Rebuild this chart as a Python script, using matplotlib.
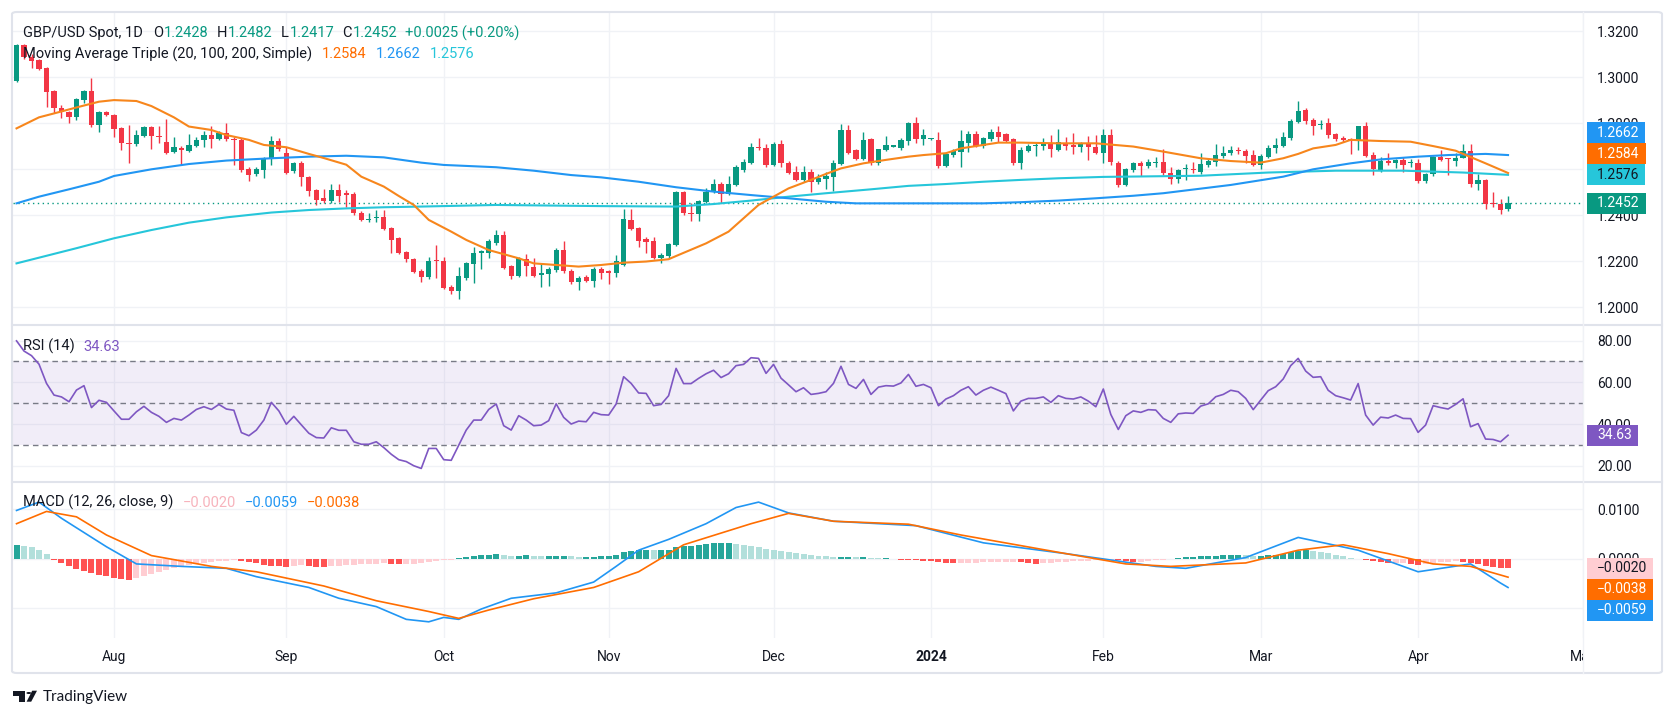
import numpy as np
import matplotlib
matplotlib.use("Agg")
import matplotlib.pyplot as plt
from matplotlib.lines import Line2D
from matplotlib.patches import Rectangle, Polygon, Circle, FancyBboxPatch
from matplotlib.ticker import FuncFormatter
from matplotlib.transforms import blended_transform_factory, Bbox

# ---- data: GBP/USD daily, 13 Jul 2023 .. 17 Apr 2024 (bar index 0..199)
open_ = [1.2985, 1.3141, 1.3090, 1.3075, 1.3039, 1.2941, 1.2865, 1.2851, 1.2826, 1.2901,
         1.2941, 1.2793, 1.2851, 1.2836, 1.2778, 1.2713, 1.2709, 1.2746, 1.2786, 1.2745,
         1.2720, 1.2675, 1.2691, 1.2681, 1.2701, 1.2728, 1.2748, 1.2733, 1.2759, 1.2733,
         1.2728, 1.2601, 1.2578, 1.2597, 1.2643, 1.2723, 1.2672, 1.2591, 1.2629, 1.2567,
         1.2510, 1.2475, 1.2462, 1.2510, 1.2493, 1.2491, 1.2412, 1.2380, 1.2387, 1.2391,
         1.2345, 1.2301, 1.2239, 1.2210, 1.2159, 1.2130, 1.2203, 1.2201, 1.2090, 1.2072,
         1.2129, 1.2188, 1.2238, 1.2235, 1.2278, 1.2314, 1.2180, 1.2136, 1.2212, 1.2177,
         1.2142, 1.2143, 1.2162, 1.2249, 1.2159, 1.2112, 1.2130, 1.2116, 1.2167, 1.2152,
         1.2151, 1.2184, 1.2380, 1.2346, 1.2296, 1.2288, 1.2216, 1.2223, 1.2271, 1.2501,
         1.2409, 1.2406, 1.2459, 1.2503, 1.2536, 1.2493, 1.2532, 1.2597, 1.2629, 1.2699,
         1.2694, 1.2619, 1.2710, 1.2629, 1.2590, 1.2554, 1.2590, 1.2546, 1.2557, 1.2568,
         1.2623, 1.2771, 1.2684, 1.2646, 1.2730, 1.2626, 1.2684, 1.2699, 1.2691, 1.2725,
         1.2800, 1.2733, 1.2730, 1.2728, 1.2614, 1.2662, 1.2677, 1.2713, 1.2754, 1.2701,
         1.2730, 1.2764, 1.2754, 1.2730, 1.2629, 1.2681, 1.2701, 1.2703, 1.2713, 1.2684,
         1.2716, 1.2706, 1.2699, 1.2710, 1.2699, 1.2672, 1.2749, 1.2629, 1.2532, 1.2597,
         1.2626, 1.2614, 1.2628, 1.2630, 1.2586, 1.2558, 1.2600, 1.2601, 1.2590, 1.2619,
         1.2633, 1.2658, 1.2672, 1.2684, 1.2681, 1.2662, 1.2619, 1.2655, 1.2691, 1.2703,
         1.2738, 1.2807, 1.2858, 1.2814, 1.2793, 1.2800, 1.2754, 1.2735, 1.2730, 1.2723,
         1.2788, 1.2662, 1.2597, 1.2636, 1.2626, 1.2641, 1.2626, 1.2626, 1.2551, 1.2578,
         1.2655, 1.2645, 1.2636, 1.2651, 1.2680, 1.2536, 1.2554, 1.2452, 1.2448, 1.2428]
high = [1.3144, 1.3144, 1.3100, 1.3080, 1.3045, 1.2945, 1.2880, 1.2855, 1.2910, 1.2945,
        1.2996, 1.2855, 1.2855, 1.2840, 1.2785, 1.2793, 1.2770, 1.2790, 1.2790, 1.2788,
        1.2817, 1.2739, 1.2700, 1.2754, 1.2740, 1.2767, 1.2788, 1.2765, 1.2800, 1.2740,
        1.2735, 1.2610, 1.2610, 1.2655, 1.2745, 1.2735, 1.2697, 1.2630, 1.2635, 1.2570,
        1.2515, 1.2513, 1.2535, 1.2536, 1.2510, 1.2503, 1.2420, 1.2409, 1.2423, 1.2423,
        1.2350, 1.2305, 1.2245, 1.2215, 1.2165, 1.2220, 1.2271, 1.2220, 1.2095, 1.2174,
        1.2195, 1.2264, 1.2250, 1.2295, 1.2337, 1.2332, 1.2185, 1.2220, 1.2230, 1.2213,
        1.2191, 1.2175, 1.2257, 1.2288, 1.2165, 1.2135, 1.2140, 1.2175, 1.2175, 1.2160,
        1.2226, 1.2428, 1.2428, 1.2350, 1.2307, 1.2307, 1.2235, 1.2280, 1.2506, 1.2506,
        1.2455, 1.2465, 1.2517, 1.2558, 1.2546, 1.2572, 1.2617, 1.2643, 1.2716, 1.2735,
        1.2709, 1.2720, 1.2728, 1.2635, 1.2615, 1.2615, 1.2600, 1.2580, 1.2590, 1.2641,
        1.2797, 1.2793, 1.2690, 1.2764, 1.2738, 1.2690, 1.2745, 1.2705, 1.2735, 1.2807,
        1.2826, 1.2774, 1.2735, 1.2764, 1.2677, 1.2690, 1.2771, 1.2768, 1.2768, 1.2740,
        1.2774, 1.2788, 1.2760, 1.2736, 1.2699, 1.2710, 1.2716, 1.2735, 1.2749, 1.2774,
        1.2742, 1.2757, 1.2720, 1.2745, 1.2749, 1.2777, 1.2775, 1.2635, 1.2606, 1.2632,
        1.2638, 1.2643, 1.2655, 1.2687, 1.2612, 1.2600, 1.2622, 1.2630, 1.2670, 1.2645,
        1.2710, 1.2701, 1.2701, 1.2696, 1.2687, 1.2684, 1.2667, 1.2706, 1.2735, 1.2764,
        1.2817, 1.2897, 1.2865, 1.2822, 1.2814, 1.2822, 1.2757, 1.2745, 1.2735, 1.2790,
        1.2804, 1.2675, 1.2655, 1.2670, 1.2645, 1.2652, 1.2643, 1.2643, 1.2583, 1.2658,
        1.2684, 1.2648, 1.2670, 1.2710, 1.2710, 1.2580, 1.2557, 1.2501, 1.2470, 1.2482]
low = [1.2980, 1.3080, 1.3040, 1.3030, 1.2872, 1.2843, 1.2822, 1.2800, 1.2814, 1.2890,
       1.2786, 1.2764, 1.2830, 1.2742, 1.2684, 1.2626, 1.2700, 1.2740, 1.2687, 1.2716,
       1.2665, 1.2670, 1.2619, 1.2675, 1.2695, 1.2699, 1.2691, 1.2728, 1.2725, 1.2619,
       1.2590, 1.2549, 1.2571, 1.2564, 1.2619, 1.2680, 1.2580, 1.2585, 1.2528, 1.2486,
       1.2445, 1.2455, 1.2455, 1.2459, 1.2438, 1.2400, 1.2375, 1.2372, 1.2372, 1.2336,
       1.2238, 1.2230, 1.2197, 1.2150, 1.2112, 1.2125, 1.2126, 1.2080, 1.2057, 1.2038,
       1.2120, 1.2107, 1.2165, 1.2213, 1.2270, 1.2165, 1.2122, 1.2130, 1.2136, 1.2130,
       1.2090, 1.2093, 1.2155, 1.2150, 1.2100, 1.2075, 1.2110, 1.2090, 1.2122, 1.2103,
       1.2133, 1.2180, 1.2335, 1.2264, 1.2238, 1.2210, 1.2191, 1.2216, 1.2266, 1.2400,
       1.2377, 1.2377, 1.2452, 1.2498, 1.2452, 1.2488, 1.2528, 1.2590, 1.2623, 1.2684,
       1.2612, 1.2614, 1.2609, 1.2580, 1.2550, 1.2546, 1.2503, 1.2536, 1.2513, 1.2506,
       1.2617, 1.2665, 1.2640, 1.2641, 1.2620, 1.2619, 1.2680, 1.2695, 1.2686, 1.2706,
       1.2716, 1.2706, 1.2728, 1.2607, 1.2610, 1.2652, 1.2612, 1.2677, 1.2696, 1.2691,
       1.2725, 1.2720, 1.2720, 1.2619, 1.2603, 1.2675, 1.2658, 1.2684, 1.2652, 1.2681,
       1.2684, 1.2667, 1.2677, 1.2641, 1.2667, 1.2629, 1.2619, 1.2522, 1.2526, 1.2590,
       1.2572, 1.2604, 1.2609, 1.2575, 1.2536, 1.2542, 1.2554, 1.2583, 1.2580, 1.2612,
       1.2614, 1.2648, 1.2662, 1.2667, 1.2626, 1.2614, 1.2600, 1.2650, 1.2672, 1.2698,
       1.2728, 1.2803, 1.2797, 1.2749, 1.2774, 1.2735, 1.2725, 1.2720, 1.2667, 1.2684,
       1.2652, 1.2575, 1.2590, 1.2619, 1.2607, 1.2590, 1.2612, 1.2542, 1.2542, 1.2572,
       1.2638, 1.2575, 1.2614, 1.2648, 1.2525, 1.2510, 1.2426, 1.2438, 1.2406, 1.2417]
close = [1.3141, 1.3090, 1.3073, 1.3035, 1.2938, 1.2865, 1.2851, 1.2826, 1.2904, 1.2941,
         1.2793, 1.2851, 1.2836, 1.2774, 1.2713, 1.2710, 1.2749, 1.2786, 1.2745, 1.2739,
         1.2672, 1.2696, 1.2684, 1.2704, 1.2728, 1.2748, 1.2732, 1.2759, 1.2730, 1.2728,
         1.2597, 1.2575, 1.2601, 1.2648, 1.2723, 1.2687, 1.2586, 1.2626, 1.2567, 1.2506,
         1.2467, 1.2461, 1.2509, 1.2486, 1.2490, 1.2409, 1.2380, 1.2384, 1.2391, 1.2341,
         1.2293, 1.2238, 1.2209, 1.2155, 1.2133, 1.2201, 1.2200, 1.2086, 1.2072, 1.2136,
         1.2191, 1.2238, 1.2242, 1.2290, 1.2314, 1.2172, 1.2136, 1.2213, 1.2180, 1.2138,
         1.2145, 1.2168, 1.2249, 1.2159, 1.2109, 1.2129, 1.2114, 1.2167, 1.2151, 1.2151,
         1.2201, 1.2383, 1.2341, 1.2290, 1.2284, 1.2216, 1.2226, 1.2275, 1.2501, 1.2409,
         1.2406, 1.2462, 1.2503, 1.2536, 1.2493, 1.2536, 1.2612, 1.2632, 1.2699, 1.2694,
         1.2619, 1.2710, 1.2629, 1.2586, 1.2554, 1.2590, 1.2546, 1.2561, 1.2572, 1.2629,
         1.2771, 1.2672, 1.2646, 1.2728, 1.2626, 1.2687, 1.2706, 1.2701, 1.2728, 1.2800,
         1.2730, 1.2748, 1.2732, 1.2614, 1.2667, 1.2681, 1.2723, 1.2754, 1.2701, 1.2735,
         1.2764, 1.2742, 1.2725, 1.2629, 1.2684, 1.2703, 1.2706, 1.2709, 1.2687, 1.2719,
         1.2701, 1.2699, 1.2710, 1.2696, 1.2672, 1.2749, 1.2633, 1.2532, 1.2600, 1.2626,
         1.2614, 1.2630, 1.2631, 1.2586, 1.2558, 1.2597, 1.2603, 1.2598, 1.2623, 1.2638,
         1.2662, 1.2672, 1.2684, 1.2680, 1.2658, 1.2619, 1.2658, 1.2694, 1.2706, 1.2739,
         1.2810, 1.2854, 1.2810, 1.2790, 1.2796, 1.2749, 1.2730, 1.2728, 1.2725, 1.2788,
         1.2658, 1.2600, 1.2636, 1.2626, 1.2641, 1.2619, 1.2629, 1.2551, 1.2578, 1.2655,
         1.2641, 1.2643, 1.2651, 1.2680, 1.2536, 1.2554, 1.2448, 1.2448, 1.2423, 1.2452]

# moving averages (bar index, value)
ma20_x = [0, 3, 5, 8, 11, 13, 16, 18, 21, 23, 26, 28, 31, 33, 36, 39, 41, 44, 46, 49,
          51, 53, 55, 58, 60, 63, 67, 69, 72, 75, 78, 81, 84, 87, 88, 92, 95, 97, 99, 101,
          103, 106, 108, 110, 113, 116, 119, 121, 124, 126, 129, 131, 134, 139, 144, 149,
          153, 158, 162, 166, 169, 171, 173, 176, 178, 182, 186, 189, 192, 193, 196, 199]
ma20_v = [1.2778, 1.2826, 1.2843, 1.2869, 1.2894, 1.2901, 1.2897, 1.2875, 1.2826, 1.2786,
          1.2771, 1.2749, 1.2728, 1.2706, 1.2696, 1.2667, 1.2649, 1.2620, 1.2568, 1.2525,
          1.2484, 1.2445, 1.2380, 1.2329, 1.2293, 1.2249, 1.2213, 1.2191, 1.2184, 1.2177,
          1.2184, 1.2194, 1.2199, 1.2209, 1.2223, 1.2278, 1.2329, 1.2387, 1.2445, 1.2481,
          1.2517, 1.2554, 1.2580, 1.2604, 1.2626, 1.2641, 1.2655, 1.2662, 1.2670, 1.2691,
          1.2706, 1.2716, 1.2716, 1.2713, 1.2713, 1.2699, 1.2677, 1.2648, 1.2636, 1.2629,
          1.2648, 1.2667, 1.2691, 1.2706, 1.2728, 1.2723, 1.2720, 1.2701, 1.2681, 1.2667,
          1.2626, 1.2584]
ma100_x = [0, 3, 7, 11, 13, 18, 23, 28, 34, 39, 44, 49, 54, 57, 64, 69, 74, 78, 83, 88,
           93, 98, 103, 108, 112, 119, 129, 134, 139, 144, 149, 153, 162, 169, 173, 178,
           182, 187, 191, 196, 199]
ma100_v = [1.2452, 1.2481, 1.2513, 1.2546, 1.2571, 1.2600, 1.2623, 1.2638, 1.2648, 1.2655,
           1.2659, 1.2652, 1.2629, 1.2619, 1.2609, 1.2594, 1.2575, 1.2565, 1.2546, 1.2522,
           1.2503, 1.2488, 1.2474, 1.2459, 1.2452, 1.2452, 1.2452, 1.2457, 1.2464, 1.2474,
           1.2485, 1.2496, 1.2532, 1.2568, 1.2600, 1.2626, 1.2643, 1.2655, 1.2662, 1.2667,
           1.2662]
ma200_x = [0, 8, 13, 18, 23, 28, 34, 39, 44, 49, 54, 64, 78, 88, 93, 98, 103, 108, 114,
           119, 124, 129, 134, 139, 145, 158, 167, 176, 185, 193, 199]
ma200_v = [1.2191, 1.2257, 1.2300, 1.2336, 1.2368, 1.2391, 1.2412, 1.2423, 1.2430, 1.2435,
           1.2438, 1.2445, 1.2440, 1.2438, 1.2449, 1.2464, 1.2481, 1.2496, 1.2513, 1.2528,
           1.2536, 1.2546, 1.2554, 1.2561, 1.2567, 1.2572, 1.2586, 1.2594, 1.2594, 1.2586,
           1.2576]

rsi = [79.9, 75.0, 72.8, 68.7, 59.5, 53.9, 53.0, 50.7, 56.3, 58.4,
       47.9, 51.4, 50.4, 46.3, 42.3, 42.3, 45.9, 48.5, 45.6, 43.7,
       40.8, 42.7, 41.9, 44.3, 47.0, 48.3, 47.0, 49.4, 47.2, 46.6,
       35.9, 34.4, 37.1, 41.9, 50.4, 46.3, 39.9, 43.7, 39.6, 35.6,
       33.5, 33.3, 38.2, 37.0, 37.0, 31.5, 30.3, 30.3, 31.5, 28.7,
       25.5, 22.9, 22.0, 20.0, 18.7, 28.3, 28.3, 22.9, 22.6, 29.9,
       37.1, 41.9, 41.9, 47.0, 49.6, 39.2, 37.1, 44.0, 41.9, 39.2,
       39.5, 41.6, 49.7, 43.2, 40.0, 41.4, 41.1, 45.6, 44.5, 44.3,
       49.6, 62.7, 59.5, 54.9, 54.7, 48.8, 49.4, 53.6, 66.7, 59.4,
       59.4, 61.9, 64.1, 65.8, 62.3, 64.1, 68.0, 68.6, 71.8, 71.5,
       64.3, 68.6, 62.0, 58.8, 55.5, 57.4, 54.2, 54.7, 55.5, 59.5,
       67.7, 59.0, 57.1, 61.4, 54.2, 57.7, 58.4, 58.2, 59.7, 63.8,
       58.1, 59.0, 57.4, 48.8, 52.0, 53.6, 56.2, 57.9, 53.9, 56.2,
       57.7, 56.2, 54.6, 46.3, 51.0, 52.3, 52.3, 53.0, 50.4, 53.6,
       52.3, 52.0, 53.0, 51.0, 48.3, 56.8, 44.6, 37.4, 44.0, 46.3,
       45.6, 46.9, 46.7, 42.7, 40.8, 44.9, 45.3, 45.1, 48.6, 49.7,
       53.1, 54.2, 56.2, 55.5, 52.3, 46.9, 51.5, 56.0, 57.9, 61.6,
       68.0, 71.5, 65.4, 62.4, 62.7, 56.2, 53.6, 52.6, 51.5, 59.4,
       44.3, 39.5, 43.3, 42.9, 44.3, 42.7, 42.6, 36.0, 39.5, 48.8,
       47.9, 47.2, 49.4, 52.1, 38.7, 40.2, 32.8, 32.6, 31.5, 34.63]

# MACD (values in 1e-3)
macd_x = [0, 3, 6, 12, 16, 22, 28, 32, 39, 43, 48, 52, 55, 57, 59, 62, 66, 72, 77, 80,
          83, 87, 92, 96, 99, 103, 109, 120, 129, 140, 152, 156, 164, 171, 179, 187, 194, 198, 199]
macd_v = [9.8, 11.5, 8.2, 2.4, -1.1, -1.6, -2.0, -3.7, -5.9, -8.1,
          -9.8, -12.4, -12.9, -12.0, -12.4, -10.3, -8.1, -7.0, -4.8, -1.6,
          1.7, 3.9, 7.1, 10.4, 11.5, 9.3, 7.6, 6.7, 3.2, 1.0,
          -1.6, -2.0, 0.2, 4.3, 1.7, -2.7, -1.1, -5.0, -5.9]
sig_x = [0, 4, 8, 12, 18, 26, 32, 41, 48, 55, 59, 63, 69, 77, 83, 89, 98, 103, 109, 119,
         126, 140, 148, 154, 164, 171, 177, 183, 189, 194, 199]
sig_v = [7.1, 9.6, 8.5, 4.8, 0.6, -1.6, -2.7, -5.6, -8.6, -10.8,
         -12.2, -10.5, -8.2, -5.9, -2.7, 2.8, 7.1, 9.2, 7.6, 7.0,
         4.8, 1.0, -1.1, -1.6, -0.9, 1.7, 2.8, 1.0, -1.1, -1.6, -3.8]
hist = [2.8, 2.6, 2.3, 1.8, 1.0,
        -0.4, -1.0, -1.6, -2.2, -2.6, -3.0, -3.3, -3.6, -3.9, -4.1, -4.3,
        -4.0, -3.6, -3.2, -2.8, -2.4, -2.0, -1.7, -1.4, -1.2, -1.0, -0.8,
        -0.6, -0.5, -0.4, -0.5, -0.7,
        -1.0, -1.3, -1.5, -1.6, -1.7,
        -1.5, -1.4, -1.5, -1.7, -1.8, -1.6, -1.5, -1.4,
        -1.3, -1.2, -1.1, -1.1, -1.0, -1.1, -1.2, -1.2, -1.1, -1.0, -0.7, -0.5, -0.4, -0.2,
        0.1, 0.3, 0.5, 0.7, 0.8, 0.9, 0.8, 0.6, 0.6, 0.7, 0.6, 0.5, 0.5, 0.5, 0.6, 0.5,
        0.4, 0.4, 0.4, 0.5, 0.6, 0.8,
        1.3, 1.6, 1.8, 1.8, 1.7, 1.7, 1.8, 2.4, 2.6, 2.6, 2.7, 2.9, 3.1, 3.2, 3.2, 3.0, 2.8,
        2.5, 2.3, 2.0, 1.8, 1.6, 1.4, 1.2, 1.0, 0.8, 0.6, 0.5, 0.4, 0.4, 0.4, 0.3, 0.3,
        0.2, 0.1, 0.1, 0.0,
        -0.2, -0.3, -0.4, -0.5, -0.6, -0.7, -0.9, -1.0, -1.0, -1.0, -0.9, -0.8, -0.8, -0.8,
        -0.7, -0.7, -0.8, -1.0, -1.1, -1.0, -0.9, -0.8, -0.7, -0.6, -0.5, -0.5, -0.4, -0.3,
        -0.3, -0.4, -0.6, -0.8, -0.8,
        -0.6, -0.4, -0.2, 0.0, 0.2, 0.3, 0.4, 0.5, 0.5, 0.6, 0.7, 0.8, 0.8, 0.7, 0.6, 0.6,
        0.7, 0.8, 1.0, 1.3, 1.6, 1.8, 1.6, 1.3, 1.1,
        0.8, 0.5, 0.2, 0.0, -0.3, -0.6, -0.8, -1.0, -1.0, -1.0, -1.1, -1.3, -1.2, -1.0,
        -0.8, -0.7, -0.6, -0.7, -1.0, -1.2, -1.5, -1.7, -1.9, -2.0]

month_idx = [13, 36, 57, 79, 101, 122, 145, 166, 187, 209]
month_lbl = ["Aug", "Sep", "Oct", "Nov", "Dec", "2024", "Feb", "Mar", "Apr", "May"]

# ---- colours
GREEN = "#089981"
RED = "#F23645"
DARK = "#131722"
ORANGE = "#FF6D00"
BLUE = "#2196F3"
CYAN = "#26C6DA"
PURPLE = "#7E57C2"
GRID = "#F0F2F6"
BORDER = "#E0E3EB"

W, H = 1675, 718
plt.rcParams['font.family'] = ['Roboto', 'DejaVu Sans']
fig = plt.figure(figsize=(W / 100, H / 100), dpi=100)
fig.patch.set_facecolor("white")

L, R = 12.7, 1583.0


def pane(top, bot):
    return fig.add_axes([L / W, 1 - bot / H, (R - L) / W, (bot - top) / H])


ax = pane(12.7, 325)
ax_rsi = pane(325, 482)
ax_macd = pane(482, 638)

idx = np.arange(len(close))
o = np.array(open_); c = np.array(close); hi = np.array(high); lo = np.array(low)
col = np.where(c >= o, GREEN, RED)

for a in (ax, ax_rsi, ax_macd):
    a.set_xlim(-0.51, 208.87)
    a.set_xticks(month_idx)
    a.tick_params(axis="x", length=0, labelbottom=False)
    a.yaxis.tick_right()
    a.tick_params(axis="y", length=0, pad=10, labelsize=10, labelcolor=DARK)
    a.grid(True, color=GRID, lw=1)
    a.set_axisbelow(True)
    for s in a.spines.values():
        s.set_visible(False)

# ---- price pane
ax.vlines(idx, lo, hi, colors=col, lw=1.0, zorder=2)
body = np.maximum(np.abs(c - o), 0.0005)
ax.bar(idx, body, bottom=np.minimum(o, c), width=0.7, color=col, lw=0, zorder=3)
ax.plot(ma200_x, ma200_v, color=CYAN, lw=1.5, zorder=4)
ax.plot(ma100_x, ma100_v, color=BLUE, lw=1.5, zorder=4)
ax.plot(ma20_x, ma20_v, color="#F7861C", lw=1.5, zorder=4)
ax.axhline(close[-1], color=GREEN, lw=1, ls=(0, (1, 2.5)), zorder=2)
ax.set_ylim(1.1923, 1.3281)
ax.set_yticks([1.20, 1.22, 1.24, 1.26, 1.28, 1.30, 1.32])
ax.yaxis.set_major_formatter(FuncFormatter(lambda v, p: f"{v:.4f}"))

# ---- RSI pane
ax_rsi.axhspan(30, 70, color=PURPLE, alpha=0.1, lw=0)
for lvl in (70, 50, 30):
    ax_rsi.axhline(lvl, color="#787B86", lw=1, ls=(0, (4, 3)))
ax_rsi.plot(idx, rsi, color=PURPLE, lw=1.2)
ax_rsi.set_ylim(12.2, 87.5)
ax_rsi.set_yticks([20, 40, 60, 80])
ax_rsi.yaxis.set_major_formatter(FuncFormatter(lambda v, p: f"{v:.2f}"))

# ---- MACD pane
hv = np.array(hist) / 1000
prev = np.r_[hv[0], hv[:-1]]
hcol = np.where(hv >= 0, np.where(hv >= prev, "#26A69A", "#B2DFDB"),
                np.where(hv < prev, "#FF5252", "#FFCDD2"))
ax_macd.bar(idx, hv, width=0.8, color=hcol, lw=0)
ax_macd.plot(macd_x, np.array(macd_v) / 1000, color=BLUE, lw=1.2)
ax_macd.plot(sig_x, np.array(sig_v) / 1000, color=ORANGE, lw=1.2)
ax_macd.set_ylim(-0.0162, 0.0156)
ax_macd.set_yticks([-0.01, 0.0, 0.01])
ax_macd.yaxis.set_major_formatter(FuncFormatter(lambda v, p: f"{v:.4f}".replace("-", "\u2212")))

# ---- frame lines
def fline(xs, ys, **kw):
    fig.add_artist(Line2D([x / W for x in xs], [1 - y / H for y in ys], transform=fig.transFigure, **kw))

fline([12, 1662], [325, 325], color=BORDER, lw=1.5)
fline([12, 1662], [482, 482], color=BORDER, lw=1.5)
fline([R, R], [12, 673], color=GRID, lw=1)
fig.add_artist(FancyBboxPatch((12 / W, 1 - 673 / H), 1650 / W, 661 / H,
                              boxstyle="round,pad=0,rounding_size=0.003",
                              transform=fig.transFigure, fc="none", ec=BORDER, lw=1.5))

renderer = fig.canvas.get_renderer()


def chain(y, parts, x0=23.0, size=10.5):
    x = x0
    for s, cc, gap in parts:
        t = fig.text(x / W, 1 - y / H, s, color=cc, fontsize=size, va="center", ha="left")
        x += t.get_window_extent(renderer=renderer).width + gap


chain(33.3, [("GBP/USD Spot, 1D", DARK, 10), ("O", DARK, 1), ("1.2428", GREEN, 8),
             ("H", DARK, 1), ("1.2482", GREEN, 8), ("L", DARK, 1), ("1.2417", GREEN, 8),
             ("C", DARK, 1), ("1.2452", GREEN, 8), ("+0.0025 (+0.20%)", GREEN, 0)])
chain(54.0, [("Moving Average Triple (20, 100, 200, Simple)", DARK, 10),
             ("1.2584", ORANGE, 9), ("1.2662", BLUE, 9), ("1.2576", CYAN, 0)])
chain(346.7, [("RSI (14)", DARK, 9), ("34.63", PURPLE, 0)])
chain(502.7, [("MACD (12, 26, close, 9)", DARK, 9), ("\u22120.0020", "#F7B3BC", 9),
              ("\u22120.0059", BLUE, 9), ("\u22120.0038", ORANGE, 0)])


# ---- price tags on the right scale
def tags(axis, items, step, direction):
    ys = [axis.transData.transform((0, v))[1] for v, _, _, _ in items]
    placed = []
    for (v, txt, fc, tc), y in zip(items, ys):
        if placed:
            if direction > 0 and y < placed[-1] + step:
                y = placed[-1] + step
            if direction < 0 and y > placed[-1] - step:
                y = placed[-1] - step
        placed.append(y)
        t = fig.text(1597 / W, y / H, txt, color=tc, fontsize=10, va="center", ha="left", zorder=6)
        bb = t.get_window_extent(renderer=renderer)
        fig.add_artist(Rectangle((1587 / W, (y - 10.5) / H), (bb.x1 + 6 - 1587) / W, 21 / H,
                                 transform=fig.transFigure, fc=fc, ec="none", zorder=5))


tags(ax, [(1.2452, "1.2452", GREEN, "white"), (1.2576, "1.2576", CYAN, DARK),
          (1.2584, "1.2584", ORANGE, "white"), (1.2662, "1.2662", BLUE, "white")], 21, 1)
tags(ax_rsi, [(34.63, "34.63", PURPLE, "white")], 21, 1)
tags(ax_macd, [(-0.0020, "\u22120.0020", "#FFCDD2", DARK), (-0.0038, "\u22120.0038", ORANGE, "white"),
               (-0.0059, "\u22120.0059", BLUE, "white")], 21, -1)

# ---- time axis labels
tr = blended_transform_factory(ax_macd.transData, fig.transFigure)
for m, lab in zip(month_idx, month_lbl):
    t = fig.text(m, 1 - 657 / H, lab, transform=tr, ha="center", va="center", fontsize=10,
                 color=DARK, fontweight="bold" if lab == "2024" else "normal")
    t.set_clip_box(Bbox.from_extents(0, 0, R, H))
    t.set_clip_on(True)

# ---- TradingView mark
def fp(x, y):
    return (x / W, 1 - y / H)

fig.add_artist(Polygon([fp(12.7, 690.7), fp(25.0, 690.7), fp(25.0, 701.7), fp(18.5, 701.7),
                        fp(18.5, 695.5), fp(12.7, 695.5)], closed=True, fc=DARK, ec="none",
                       transform=fig.transFigure))
fig.add_artist(Circle(fp(28.8, 693.0), 2.4 / W, fc=DARK, ec="none", transform=fig.transFigure))
fig.add_artist(Polygon([fp(32.2, 690.7), fp(37.0, 690.7), fp(31.2, 701.7), fp(26.6, 701.7)],
                       closed=True, fc=DARK, ec="none", transform=fig.transFigure))
fig.text(42.5 / W, 1 - 696.5 / H, "TradingView", fontsize=11, color=DARK, va="center",
         ha="left", family=["Lato", "DejaVu Sans"])

fig.savefig("out.png", dpi=100, facecolor="white")
